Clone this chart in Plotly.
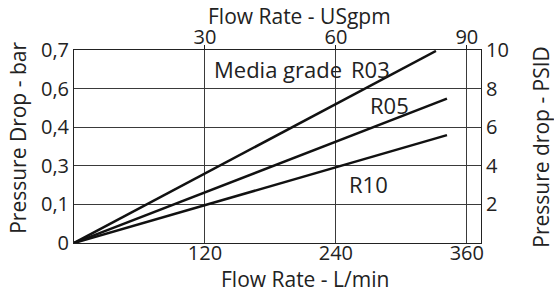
import plotly.graph_objects as go

# Data (flow in L/min, pressure drop in PSID)
series_names = ["R03", "R05", "R10"]
flow_lpm = {"R03": [0, 331.7], "R05": [0, 341.8], "R10": [0, 341.8]}
dp_psid = {"R03": [0, 9.95], "R05": [0, 7.48], "R10": [0, 5.59]}

x_ticks_lpm = [120, 240, 360]
x_ticks_gpm = [30, 60, 90]
y_ticks_psid = [0, 2, 4, 6, 8, 10]
y_ticks_bar_text = ["0", "0,1", "0,3", "0,4", "0,6", "0,7"]
y2_ticks = [2, 4, 6, 8, 10]

X_MAX = 373
FONT = "Open Sans"
TXT = "#222222"
GRID = "#3a3a3a"

fig = go.Figure()
for name in series_names:
    fig.add_trace(go.Scatter(x=flow_lpm[name], y=dp_psid[name], mode="lines",
                             line=dict(color="#111111", width=2.5),
                             showlegend=False, hoverinfo="skip"))
# invisible trace to anchor secondary axes
fig.add_trace(go.Scatter(x=[0], y=[0], xaxis="x2", yaxis="y2", mode="markers",
                         marker=dict(opacity=0), showlegend=False, hoverinfo="skip"))

tickfont = dict(family=FONT, size=20, color=TXT)
fig.update_layout(
    width=554, height=289,
    margin=dict(l=74, r=73, t=50, b=46),
    paper_bgcolor="white", plot_bgcolor="white",
    font=dict(family=FONT, color=TXT),
    xaxis=dict(range=[0, X_MAX], tickvals=x_ticks_lpm, showgrid=True, gridcolor=GRID,
               gridwidth=1, zeroline=False, showline=True, linecolor="#222", linewidth=1,
               ticks="", tickfont=tickfont, automargin=False, ticklabelstandoff=-8),
    xaxis2=dict(range=[0, X_MAX / 4], tickvals=x_ticks_gpm, overlaying="x", side="top",
                showgrid=False, zeroline=False, showline=True, linecolor="#222", linewidth=1,
                ticks="outside", ticklen=4, tickcolor="#222", tickfont=tickfont, anchor="y",
                automargin=False, ticklabelstandoff=-7),
    yaxis=dict(range=[0, 10], tickvals=y_ticks_psid, ticktext=y_ticks_bar_text, showgrid=True,
               gridcolor=GRID, gridwidth=1, zeroline=False, showline=True, linecolor="#222",
               linewidth=1, ticks="", tickfont=tickfont, automargin=False),
    yaxis2=dict(range=[0, 10], tickvals=y2_ticks, overlaying="y", side="right", showgrid=False,
                zeroline=False, showline=True, linecolor="#222", linewidth=1, ticks="",
                tickfont=tickfont, anchor="x", automargin=False),
)

ann = []
title_font = dict(family=FONT, size=21, color=TXT)
ann.append(dict(text="Flow Rate - USgpm", xref="paper", yref="paper", x=0.554, y=1.176,
                showarrow=False, font=title_font, xanchor="center", yanchor="middle"))
ann.append(dict(text="Flow Rate - L/min", xref="paper", yref="paper", x=0.5676, y=-0.185,
                showarrow=False, font=title_font, xanchor="center", yanchor="middle"))
ann.append(dict(text="Pressure Drop - bar", xref="paper", yref="paper", x=-0.1376, y=0.545,
                showarrow=False, font=title_font, textangle=-90, xanchor="center", yanchor="middle"))
ann.append(dict(text="Pressure drop - PSID", xref="paper", yref="paper", x=1.147, y=0.498,
                showarrow=False, font=title_font, textangle=-90, xanchor="center", yanchor="middle"))
lab_font = dict(family=FONT, size=22, color=TXT)
ann.append(dict(text="Media grade", x=247.4, y=9.02, showarrow=False, font=lab_font,
                xanchor="right", yanchor="middle"))
ann.append(dict(text="R03", x=252.0, y=9.02, showarrow=False, font=lab_font,
                xanchor="left", yanchor="middle"))
ann.append(dict(text="R05", x=288.7, y=7.15, showarrow=False, font=lab_font,
                xanchor="center", yanchor="middle"))
ann.append(dict(text="R10", x=269.9, y=3.07, showarrow=False, font=lab_font,
                xanchor="center", yanchor="middle"))
fig.update_layout(annotations=ann)

# remove the default 8px page margin so the figure sits at the window's origin
fig.write_html("out.html", config={"displayModeBar": False},
               post_script="document.body.style.margin='0';")
